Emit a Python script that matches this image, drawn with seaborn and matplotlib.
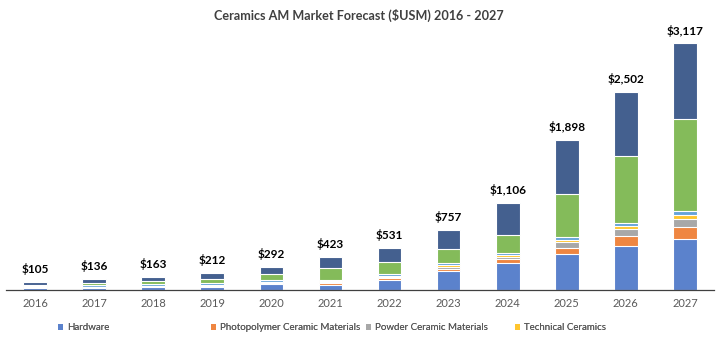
import matplotlib
matplotlib.use("Agg")
import matplotlib.pyplot as plt
import seaborn as sns
import numpy as np
import pandas as pd
from matplotlib.patches import Patch

years = ["2016", "2017", "2018", "2019", "2020", "2021", "2022", "2023", "2024", "2025", "2026", "2027"]
totals = [105, 136, 163, 212, 292, 423, 531, 757, 1106, 1898, 2502, 3117]

series_names = ["Hardware", "Photopolymer Ceramic Materials", "Powder Ceramic Materials",
                "Technical Ceramics", "Other Materials", "Services", "Parts"]
hardware      = [26, 29, 36, 41, 75, 69, 124, 243, 347, 449, 562, 641]
photopolymer  = [2, 3, 4, 5, 11, 15, 22, 27, 39, 76, 118, 153]
powder        = [5, 6, 8, 10, 11, 15, 14, 20, 26, 76, 88, 110]
technical     = [4, 5, 6, 8, 8, 13, 14, 20, 26, 32, 38, 42]
other         = [18, 20, 18, 19, 18, 18, 22, 31, 31, 42, 38, 51]
services      = [10, 26, 40, 56, 80, 152, 156, 182, 230, 540, 850, 1166]
parts         = [40, 47, 51, 73, 89, 141, 179, 234, 407, 683, 808, 954]

colors = ["#5B82CC", "#EF8641", "#A8A8A8", "#FFC52E", "#66A3D9", "#84BB5A", "#44608F"]

layers = [hardware, photopolymer, powder, technical, other, services, parts]

plt.rcParams['font.family'] = ['Lato', 'DejaVu Sans']
fig = plt.figure(figsize=(7.18, 3.42), dpi=100)
ax = fig.add_axes([5.5 / 718, 52 / 342, 709 / 718, 261 / 342])

cum = np.cumsum(np.array(layers), axis=0)
for i in range(len(layers) - 1, -1, -1):
    df = pd.DataFrame({"year": years, "value": cum[i]})
    sns.barplot(data=df, x="year", y="value", color=colors[i], width=0.4,
                edgecolor="white", linewidth=0.8, saturation=1, ax=ax, order=years)

ax.set_ylim(0, 3300)
ax.set_xlim(-0.5, len(years) - 0.5)
for s in ["top", "right", "left"]:
    ax.spines[s].set_visible(False)
ax.spines["bottom"].set_color("#404040")
ax.spines["bottom"].set_linewidth(0.9)
ax.set_yticks([])
ax.set_xlabel("")
ax.set_ylabel("")
ax.tick_params(axis="x", length=0, pad=6, labelsize=8, labelcolor="#595959")

for i, t in enumerate(totals):
    ax.annotate(f"${t:,}", (i, t), xytext=(0, 5), textcoords="offset points",
                ha="center", va="bottom", fontsize=8.5, fontweight="bold", color="black")

fig.text(0.5, 1 - 15 / 342, "Ceramics AM Market Forecast ($USM) 2016 - 2027",
         ha="center", va="center", fontsize=9.1, fontweight="bold", color="#404040")

legend_x = [58, 211, 366, 515]
for k in range(4):
    h = Patch(facecolor=colors[k], edgecolor="none")
    lg = fig.legend(handles=[h], labels=[series_names[k]], loc="center left",
                    bbox_to_anchor=(legend_x[k] / 718, 1 - 328 / 342), frameon=False,
                    fontsize=7.0, handlelength=0.55, handleheight=0.55, handletextpad=0.35,
                    borderpad=0, borderaxespad=0, labelcolor="#595959")
    fig.add_artist(lg)

fig.savefig("out.png", dpi=100)
